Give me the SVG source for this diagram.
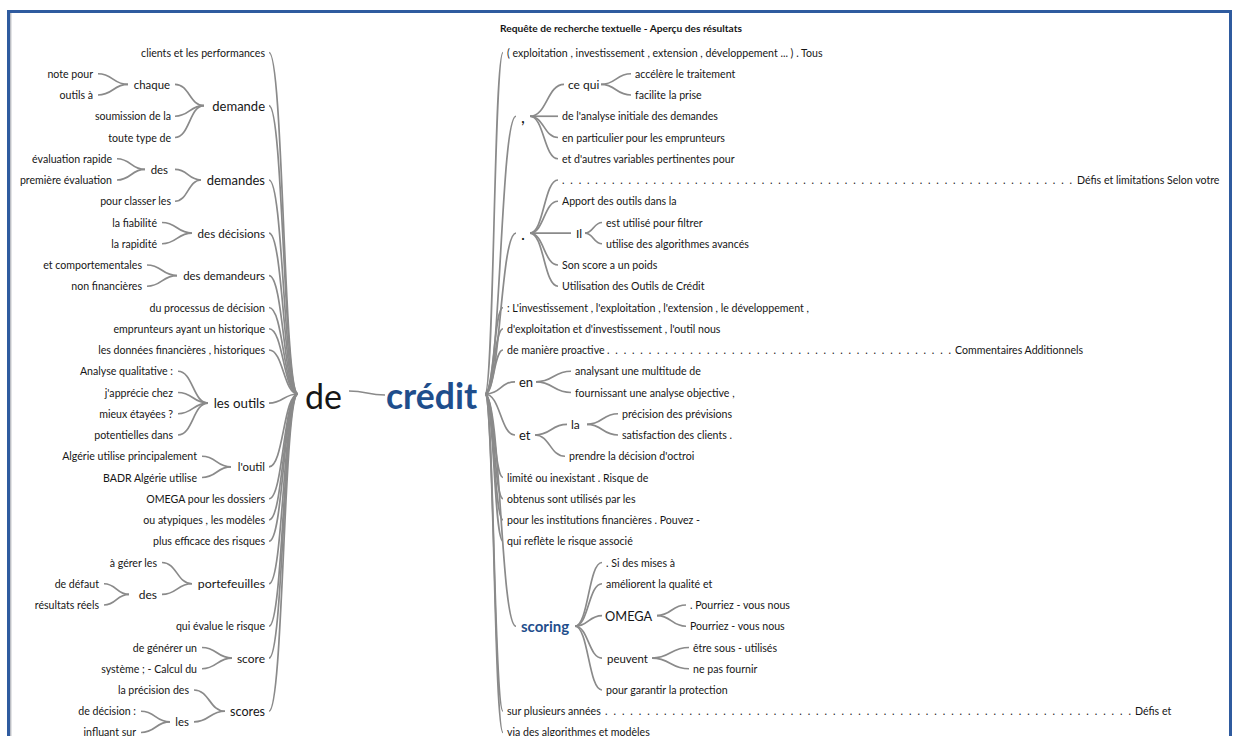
<svg xmlns="http://www.w3.org/2000/svg" width="1233" height="736" viewBox="0 0 1233 736">
  <style>
    text { font-family: Lato, "Noto Sans", "Liberation Sans", sans-serif; fill: #161616; dominant-baseline: central; font-size: 10.6px; }
    .e { text-anchor: end; }
    .s { font-size: 11.4px; }
    .m { font-size: 12px; }
    .b { font-size: 13px; }
    .p { font-size: 17px; }
    .hub { font-size: 34px; }
    .blue { fill: #1f4e8c; font-weight: bold; }
    .title { font-size: 10.2px; font-weight: bold; }
    #links path { fill: none; stroke: #8a8a8a; stroke-width: 1.7; }
  </style>

  <rect width="1233" height="736" fill="#ffffff"/>
  <!-- window frame -->
  <rect x="8.5" y="11.5" width="1222" height="760" fill="none" stroke="#2f5b9f" stroke-width="3"/>
  <line x1="10.8" y1="13" x2="10.8" y2="736" stroke="#3a3f4f" stroke-width="0.8" opacity="0.6"/>

  <text class="title" x="500" y="28">Requête de recherche textuelle - Aperçu des résultats</text>

  <!-- connectors -->
  <g id="links">
    <!-- left trunk into "de" -->
    <path d="M269,52.5 C283.5,52.5 283.5,394 298,394"/>
    <path d="M269,105.6 C283.5,105.6 283.5,394 298,394"/>
    <path d="M269,180 C283.5,180 283.5,394 298,394"/>
    <path d="M269,233.1 C283.5,233.1 283.5,394 298,394"/>
    <path d="M269,275.6 C283.5,275.6 283.5,394 298,394"/>
    <path d="M269,307.5 C283.5,307.5 283.5,394 298,394"/>
    <path d="M269,328.75 C283.5,328.75 283.5,394 298,394"/>
    <path d="M269,350 C283.5,350 283.5,394 298,394"/>
    <path d="M269,403.1 C283.5,403.1 283.5,394 298,394"/>
    <path d="M269,466.9 C283.5,466.9 283.5,394 298,394"/>
    <path d="M269,498.75 C283.5,498.75 283.5,394 298,394"/>
    <path d="M269,520 C283.5,520 283.5,394 298,394"/>
    <path d="M269,541.25 C283.5,541.25 283.5,394 298,394"/>
    <path d="M269,583.75 C283.5,583.75 283.5,394 298,394"/>
    <path d="M269,626.25 C283.5,626.25 283.5,394 298,394"/>
    <path d="M269,658.1 C283.5,658.1 283.5,394 298,394"/>
    <path d="M269,711.25 C283.5,711.25 283.5,394 298,394"/>

    <!-- demande -->
    <path d="M175,84.4 C189.5,84.4 189.5,105.6 204,105.6"/>
    <path d="M175,116.25 C189.5,116.25 189.5,105.6 204,105.6"/>
    <path d="M175,137.5 C189.5,137.5 189.5,105.6 204,105.6"/>
    <!-- chaque -->
    <path d="M98,73.75 C113,73.75 113,84.4 128,84.4"/>
    <path d="M98,95 C113,95 113,84.4 128,84.4"/>
    <!-- demandes -->
    <path d="M175,169.4 C188,169.4 188,180 201,180"/>
    <path d="M175,201.25 C188,201.25 188,180 201,180"/>
    <!-- des (demandes) -->
    <path d="M117,158.75 C131,158.75 131,169.4 145,169.4"/>
    <path d="M117,180 C131,180 131,169.4 145,169.4"/>
    <!-- des décisions -->
    <path d="M162,222.5 C177,222.5 177,233.1 192,233.1"/>
    <path d="M162,243.75 C177,243.75 177,233.1 192,233.1"/>
    <!-- des demandeurs -->
    <path d="M147,265 C162,265 162,275.6 177,275.6"/>
    <path d="M147,286.25 C162,286.25 162,275.6 177,275.6"/>
    <!-- les outils -->
    <path d="M178,371.25 C193,371.25 193,403.1 208,403.1"/>
    <path d="M178,392.5 C193,392.5 193,403.1 208,403.1"/>
    <path d="M178,413.75 C193,413.75 193,403.1 208,403.1"/>
    <path d="M178,435 C193,435 193,403.1 208,403.1"/>
    <!-- l'outil -->
    <path d="M202,456.25 C216.5,456.25 216.5,466.9 231,466.9"/>
    <path d="M202,477.5 C216.5,477.5 216.5,466.9 231,466.9"/>
    <!-- portefeuilles -->
    <path d="M162,562.5 C177,562.5 177,583.75 192,583.75"/>
    <path d="M162,594.4 C177,594.4 177,583.75 192,583.75"/>
    <!-- des (portefeuilles) -->
    <path d="M104,583.75 C116.5,583.75 116.5,594.4 129,594.4"/>
    <path d="M104,605 C116.5,605 116.5,594.4 129,594.4"/>
    <!-- score -->
    <path d="M202,647.5 C217,647.5 217,658.1 232,658.1"/>
    <path d="M202,668.75 C217,668.75 217,658.1 232,658.1"/>
    <!-- scores -->
    <path d="M194,690 C209.5,690 209.5,711.25 225,711.25"/>
    <path d="M194,721.9 C209.5,721.9 209.5,711.25 225,711.25"/>
    <!-- les (scores) -->
    <path d="M141,711.25 C155.5,711.25 155.5,721.9 170,721.9"/>
    <path d="M141,732.5 C155.5,732.5 155.5,721.9 170,721.9"/>

    <!-- de -> crédit -->
    <path d="M349,391 C367,391 367,395 385,395"/>

    <!-- right trunk out of "crédit" -->
    <path d="M485,394 C494,394 494,52.5 503,52.5"/>
    <path d="M485,394 C500.5,394 500.5,116.25 516,116.25"/>
    <path d="M485,394 C500.5,394 500.5,233.1 516,233.1"/>
    <path d="M485,394 C494,394 494,307.5 503,307.5"/>
    <path d="M485,394 C494,394 494,328.75 503,328.75"/>
    <path d="M485,394 C494,394 494,350 503,350"/>
    <path d="M485,394 C500.5,394 500.5,381.9 515,381.9"/>
    <path d="M485,394 C500.5,394 500.5,435 515,435"/>
    <path d="M485,394 C494,394 494,477.5 503,477.5"/>
    <path d="M485,394 C494,394 494,498.75 503,498.75"/>
    <path d="M485,394 C494,394 494,520 503,520"/>
    <path d="M485,394 C494,394 494,541.25 503,541.25"/>
    <path d="M485,394 C500.5,394 500.5,626.25 516,626.25"/>
    <path d="M485,394 C494,394 494,711.25 503,711.25"/>
    <path d="M485,394 C494,394 494,732.5 503,732.5"/>

    <!-- , -->
    <path d="M530,116.25 C547,116.25 547,84.4 564,84.4"/>
    <path d="M530,116.25 C544,116.25 544,116.25 558,116.25"/>
    <path d="M530,116.25 C544,116.25 544,137.5 558,137.5"/>
    <path d="M530,116.25 C544,116.25 544,158.75 558,158.75"/>
    <!-- ce qui -->
    <path d="M601,84.4 C616,84.4 616,73.75 631,73.75"/>
    <path d="M601,84.4 C616,84.4 616,95 631,95"/>
    <!-- . -->
    <path d="M530,233.1 C544,233.1 544,180 558,180"/>
    <path d="M530,233.1 C544,233.1 544,201.25 558,201.25"/>
    <path d="M530,233.1 C550,233.1 550,233.1 571,233.1"/>
    <path d="M530,233.1 C544,233.1 544,265 558,265"/>
    <path d="M530,233.1 C544,233.1 544,286.25 558,286.25"/>
    <!-- Il -->
    <path d="M585,233.1 C593.5,233.1 593.5,222.5 602,222.5"/>
    <path d="M585,233.1 C593.5,233.1 593.5,243.75 602,243.75"/>
    <!-- en -->
    <path d="M536,381.9 C553.5,381.9 553.5,371.25 571,371.25"/>
    <path d="M536,381.9 C553.5,381.9 553.5,392.5 571,392.5"/>
    <!-- et -->
    <path d="M535,435 C551,435 551,424.4 567,424.4"/>
    <path d="M535,435 C550,435 550,456.25 565,456.25"/>
    <!-- la -->
    <path d="M587,424.4 C602.5,424.4 602.5,413.75 618,413.75"/>
    <path d="M587,424.4 C602.5,424.4 602.5,435 618,435"/>
    <!-- scoring -->
    <path d="M575,626.25 C588.5,626.25 588.5,562.5 602,562.5"/>
    <path d="M575,626.25 C588.5,626.25 588.5,583.75 602,583.75"/>
    <path d="M575,626.25 C588.5,626.25 588.5,615.6 602,615.6"/>
    <path d="M575,626.25 C588.5,626.25 588.5,658.1 602,658.1"/>
    <path d="M575,626.25 C588.5,626.25 588.5,690 602,690"/>
    <!-- OMEGA -->
    <path d="M657,615.6 C671.5,615.6 671.5,605 686,605"/>
    <path d="M657,615.6 C671.5,615.6 671.5,626.25 686,626.25"/>
    <!-- peuvent -->
    <path d="M652,658.1 C670.5,658.1 670.5,647.5 689,647.5"/>
    <path d="M652,658.1 C670.5,658.1 670.5,668.75 689,668.75"/>
  </g>

  <!-- centre -->
  <g id="n-de"><text class="hub" x="305" y="395">de</text></g>
  <g id="n-credit"><text class="hub blue" style="font-size:35.5px" x="386" y="395">crédit</text></g>

  <!-- left side, preceding words -->
  <g id="l-clients"><text class="e" x="265" y="52.5">clients et les performances</text></g>
  <g id="l-demande"><text class="e b" x="265" y="105.6">demande</text></g>
  <g id="l-chaque"><text class="e s" x="170" y="84.4">chaque</text></g>
  <g id="l-note-pour"><text class="e" x="93" y="73.75">note pour</text></g>
  <g id="l-outils-a"><text class="e" x="93" y="95">outils à</text></g>
  <g id="l-soumission"><text class="e" x="171" y="116.25">soumission de la</text></g>
  <g id="l-toute-type"><text class="e" x="171" y="137.5">toute type de</text></g>
  <g id="l-demandes"><text class="e b" x="265" y="180">demandes</text></g>
  <g id="l-des-1"><text class="e s" x="168" y="169.4">des</text></g>
  <g id="l-eval-rapide"><text class="e" x="112" y="158.75">évaluation rapide</text></g>
  <g id="l-premiere-eval"><text class="e" x="112" y="180">première évaluation</text></g>
  <g id="l-classer"><text class="e" x="171" y="201.25">pour classer les</text></g>
  <g id="l-des-decisions"><text class="e" style="font-size:11.6px" x="265" y="233.1">des décisions</text></g>
  <g id="l-fiabilite"><text class="e" x="157" y="222.5">la fiabilité</text></g>
  <g id="l-rapidite"><text class="e" x="157" y="243.75">la rapidité</text></g>
  <g id="l-des-demandeurs"><text class="e s" x="265" y="275.6">des demandeurs</text></g>
  <g id="l-comportementales"><text class="e" x="142" y="265">et comportementales</text></g>
  <g id="l-non-financieres"><text class="e" x="142" y="286.25">non financières</text></g>
  <g id="l-processus"><text class="e" x="265" y="307.5">du processus de décision</text></g>
  <g id="l-emprunteurs"><text class="e" x="265" y="328.75">emprunteurs ayant un historique</text></g>
  <g id="l-donnees"><text class="e" x="265" y="350">les données financières , historiques</text></g>
  <g id="l-les-outils"><text class="e" style="font-size:13.3px" x="265" y="403.1">les outils</text></g>
  <g id="l-analyse"><text class="e" x="173" y="371.25">Analyse qualitative :</text></g>
  <g id="l-apprecie"><text class="e" x="173" y="392.5">j'apprécie chez</text></g>
  <g id="l-etayees"><text class="e" x="173" y="413.75">mieux étayées ?</text></g>
  <g id="l-potentielles"><text class="e" x="173" y="435">potentielles dans</text></g>
  <g id="l-loutil"><text class="e s" x="265" y="466.9">l'outil</text></g>
  <g id="l-algerie"><text class="e" x="197" y="456.25">Algérie utilise principalement</text></g>
  <g id="l-badr"><text class="e" x="197" y="477.5">BADR Algérie utilise</text></g>
  <g id="l-omega"><text class="e" x="265" y="498.75">OMEGA pour les dossiers</text></g>
  <g id="l-atypiques"><text class="e" x="265" y="520">ou atypiques , les modèles</text></g>
  <g id="l-efficace"><text class="e" x="265" y="541.25">plus efficace des risques</text></g>
  <g id="l-portefeuilles"><text class="e" style="font-size:12.3px" x="265" y="583.75">portefeuilles</text></g>
  <g id="l-gerer"><text class="e" x="157" y="562.5">à gérer les</text></g>
  <g id="l-des-2"><text class="e m" x="157" y="594.4">des</text></g>
  <g id="l-defaut"><text class="e" x="99" y="583.75">de défaut</text></g>
  <g id="l-resultats"><text class="e" x="99" y="605">résultats réels</text></g>
  <g id="l-evalue"><text class="e" x="265" y="626.25">qui évalue le risque</text></g>
  <g id="l-score"><text class="e m" x="265" y="658.1">score</text></g>
  <g id="l-generer"><text class="e" x="197" y="647.5">de générer un</text></g>
  <g id="l-systeme"><text class="e" x="197" y="668.75">système ; - Calcul du</text></g>
  <g id="l-scores"><text class="e" style="font-size:12.6px" x="265" y="711.25">scores</text></g>
  <g id="l-precision"><text class="e" x="189" y="690">la précision des</text></g>
  <g id="l-les"><text class="e s" x="189" y="721.9">les</text></g>
  <g id="l-decision"><text class="e" x="136" y="711.25">de décision :</text></g>
  <g id="l-influant"><text class="e" x="136" y="731.5">influant sur</text></g>

  <!-- right side, following words -->
  <g id="r-exploitation"><text x="507" y="52.5">( exploitation , investissement , extension , développement ... ) . Tous</text></g>
  <g id="r-comma"><text class="p" x="521" y="116.25">,</text></g>
  <g id="r-ce-qui"><text class="m" x="568" y="84.4">ce qui</text></g>
  <g id="r-accelere"><text x="635" y="73.75">accélère le traitement</text></g>
  <g id="r-facilite"><text x="635" y="95">facilite la prise</text></g>
  <g id="r-analyse-initiale"><text x="562" y="116.25">de l'analyse initiale des demandes</text></g>
  <g id="r-particulier"><text x="562" y="137.5">en particulier pour les emprunteurs</text></g>
  <g id="r-variables"><text x="562" y="158.75">et d'autres variables pertinentes pour</text></g>
  <g id="r-period"><text class="p" x="521" y="233.1">.</text></g>
  <g id="r-defis-1">
    <text x="562" y="180" textLength="510" lengthAdjust="spacing">..............................................................</text>
    <text x="1077" y="180">Défis et limitations Selon votre</text>
  </g>
  <g id="r-apport"><text x="562" y="201.25">Apport des outils dans la</text></g>
  <g id="r-il"><text class="m" x="576" y="233.1">Il</text></g>
  <g id="r-filtrer"><text x="606" y="222.5">est utilisé pour filtrer</text></g>
  <g id="r-algorithmes"><text x="606" y="243.75">utilise des algorithmes avancés</text></g>
  <g id="r-poids"><text x="562" y="265">Son score a un poids</text></g>
  <g id="r-utilisation"><text x="562" y="286.25">Utilisation des Outils de Crédit</text></g>
  <g id="r-investissement"><text x="507" y="307.5">: L'investissement , l'exploitation , l'extension , le développement ,</text></g>
  <g id="r-outil-nous"><text x="507" y="328.75">d'exploitation et d'investissement , l'outil nous</text></g>
  <g id="r-proactive">
    <text x="507" y="350">de manière proactive</text>
    <text x="607" y="350" textLength="344" lengthAdjust="spacing">..........................................</text>
    <text x="955" y="350">Commentaires Additionnels</text>
  </g>
  <g id="r-en"><text class="b" x="519" y="381.9">en</text></g>
  <g id="r-analysant"><text x="575" y="371.25">analysant une multitude de</text></g>
  <g id="r-fournissant"><text x="575" y="392.5">fournissant une analyse objective ,</text></g>
  <g id="r-et"><text class="b" x="519" y="435">et</text></g>
  <g id="r-la"><text class="m" x="571" y="424.4">la</text></g>
  <g id="r-previsions"><text x="622" y="413.75">précision des prévisions</text></g>
  <g id="r-satisfaction"><text x="622" y="435">satisfaction des clients .</text></g>
  <g id="r-octroi"><text x="569" y="456.25">prendre la décision d'octroi</text></g>
  <g id="r-limite"><text x="507" y="477.5">limité ou inexistant . Risque de</text></g>
  <g id="r-obtenus"><text x="507" y="498.75">obtenus sont utilisés par les</text></g>
  <g id="r-institutions"><text x="507" y="520">pour les institutions financières . Pouvez -</text></g>
  <g id="r-reflete"><text x="507" y="541.25">qui reflète le risque associé</text></g>
  <g id="r-scoring"><text class="blue" style="font-size:15px" x="521" y="626.25">scoring</text></g>
  <g id="r-mises"><text x="606" y="562.5">. Si des mises à</text></g>
  <g id="r-qualite"><text x="606" y="583.75">améliorent la qualité et</text></g>
  <g id="r-omega"><text style="font-size:12.8px" x="605" y="615.6">OMEGA</text></g>
  <g id="r-pourriez-1"><text x="690" y="605">. Pourriez - vous nous</text></g>
  <g id="r-pourriez-2"><text x="690" y="626.25">Pourriez - vous nous</text></g>
  <g id="r-peuvent"><text class="s" x="607" y="658.1">peuvent</text></g>
  <g id="r-sous-utilises"><text x="693" y="647.5">être sous - utilisés</text></g>
  <g id="r-fournir"><text x="693" y="668.75">ne pas fournir</text></g>
  <g id="r-protection"><text x="606" y="690">pour garantir la protection</text></g>
  <g id="r-annees">
    <text x="507" y="711.25">sur plusieurs années</text>
    <text x="605" y="711.25" textLength="526" lengthAdjust="spacing">...............................................................</text>
    <text x="1135" y="711.25">Défis et</text>
  </g>
  <g id="r-via"><text x="507" y="731.5">via des algorithmes et modèles</text></g>
</svg>
